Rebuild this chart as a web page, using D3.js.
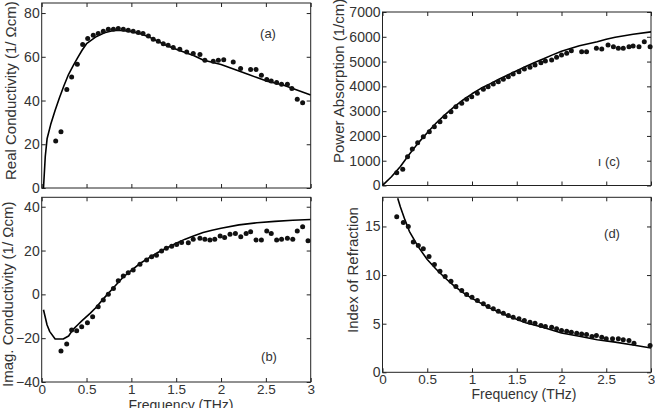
<!DOCTYPE html>
<html>
<head>
<meta charset="utf-8">
<script src="https://cdn.jsdelivr.net/npm/d3@7"></script>
<style>
  body { margin: 0; background: #fff; }
  text { font-family: "Liberation Sans", Arial, sans-serif; fill: #333; }
</style>
</head>
<body>
<script>
// frequency grid ticks (THz)
var freqTicks = [0, 0.5, 1, 1.5, 2, 2.5, 3];
var freqLabels = ["0", "0.5", "1", "1.5", "2", "2.5", "3"];

// (a) real conductivity
var freqA = [0.156, 0.215, 0.28, 0.334, 0.397, 0.457, 0.513, 0.575, 0.63, 0.687, 0.743, 0.80, 0.854, 0.91, 0.965, 1.02, 1.077, 1.13, 1.19, 1.244, 1.30, 1.356, 1.41, 1.467, 1.54, 1.617, 1.69, 1.765, 1.82, 1.913, 1.97, 2.03, 2.136, 2.218, 2.33, 2.39, 2.45, 2.51, 2.56, 2.62, 2.675, 2.74, 2.79, 2.85, 2.91];
var sigReA = [21.5, 25.7, 45, 50.8, 56.6, 65.6, 68.4, 69.9, 70.6, 71.7, 72.6, 72.6, 72.9, 72.6, 72.1, 71.7, 71.1, 70.6, 69.5, 68, 67.1, 66, 65.3, 64.2, 63.5, 62.2, 61.5, 61, 58.4, 58, 58.4, 58.7, 57.6, 54.7, 54.2, 54.2, 51.6, 49.6, 48.9, 48.3, 47.5, 47.5, 45.5, 40.6, 39];
var fitFreqA = [0.02, 0.04, 0.06, 0.1, 0.15, 0.2, 0.25, 0.3, 0.35, 0.4, 0.45, 0.5, 0.6, 0.7, 0.8, 0.9, 1.0, 1.1, 1.2, 1.3, 1.4, 1.5, 1.6, 1.7, 1.8, 1.9, 2.0, 2.1, 2.2, 2.3, 2.4, 2.5, 2.6, 2.7, 2.8, 2.9, 3.0];
var fitReA = [0, 14.5, 22.5, 29, 35.6, 41.5, 47, 52, 55.8, 59.5, 63, 66, 69, 71, 72, 72, 71.5, 70.5, 69, 67, 65, 63.5, 62, 60.5, 58.5, 57.5, 56.5, 55, 53.5, 52, 50.5, 49, 48, 47, 45.5, 44, 42.5];

// (b) imaginary conductivity
var freqB = [0.215, 0.279, 0.334, 0.39, 0.446, 0.51, 0.568, 0.63, 0.687, 0.743, 0.8, 0.854, 0.91, 0.965, 1.02, 1.096, 1.17, 1.226, 1.28, 1.337, 1.39, 1.45, 1.505, 1.56, 1.635, 1.69, 1.765, 1.82, 1.876, 1.93, 1.99, 2.04, 2.1, 2.16, 2.22, 2.28, 2.33, 2.39, 2.45, 2.51, 2.56, 2.62, 2.675, 2.74, 2.8, 2.85, 2.91, 2.97];
var sigImB = [-25.8, -22.7, -16.3, -16.6, -14.8, -13, -10.2, -5.7, -2.6, 0.1, 2.7, 6.2, 8.4, 9.9, 11.1, 13.8, 15.7, 17.2, 17.9, 19.8, 21, 22, 22.8, 23.7, 23.6, 25.1, 25.6, 25.1, 24.8, 25.1, 26.6, 26, 27.4, 27.8, 26.3, 27.8, 28.6, 24.8, 24.8, 28.9, 27.8, 24.8, 25.1, 25.6, 25.1, 28.9, 30.9, 24.5];
var fitFreqB = [0.02, 0.06, 0.09, 0.15, 0.24, 0.3, 0.35, 0.4, 0.45, 0.54, 0.6, 0.7, 0.8, 0.9, 1.0, 1.1, 1.2, 1.3, 1.4, 1.5, 1.6, 1.7, 1.8, 1.9, 2.0, 2.2, 2.4, 2.6, 2.8, 3.0];
var fitImB = [-7, -14, -17, -20.4, -20.4, -19, -16, -14, -12, -8.7, -6.2, -1.5, 3, 7.5, 11, 14.2, 16.8, 19.2, 21.3, 23.3, 25.2, 26.8, 28.2, 29.3, 30.2, 31.7, 32.7, 33.3, 33.8, 34.2];

// (c) power absorption
var freqC = [0.159, 0.226, 0.28, 0.333, 0.393, 0.456, 0.523, 0.579, 0.642, 0.698, 0.765, 0.82, 0.885, 0.94, 0.997, 1.06, 1.127, 1.18, 1.238, 1.294, 1.35, 1.406, 1.46, 1.525, 1.585, 1.648, 1.704, 1.77, 1.82, 1.89, 1.945, 2.0, 2.058, 2.11, 2.225, 2.28, 2.39, 2.45, 2.52, 2.58, 2.635, 2.69, 2.754, 2.8, 2.866, 2.925, 2.99];
var alphaC = [516, 653, 1162, 1472, 1727, 1968, 2170, 2372, 2573, 2775, 2977, 3179, 3316, 3477, 3582, 3719, 3880, 3985, 4094, 4187, 4284, 4389, 4498, 4590, 4700, 4768, 4861, 4953, 5022, 5062, 5171, 5264, 5333, 5438, 5397, 5397, 5534, 5506, 5668, 5601, 5534, 5534, 5601, 5628, 5601, 5802, 5601];
var fitFreqC = [0, 0.1, 0.2, 0.3, 0.4, 0.5, 0.6, 0.7, 0.8, 0.9, 1.0, 1.1, 1.2, 1.3, 1.4, 1.5, 1.6, 1.7, 1.8, 1.9, 2.0, 2.2, 2.4, 2.5, 2.6, 2.8, 3.0];
var fitAlphaC = [0, 355, 770, 1260, 1720, 2130, 2520, 2860, 3170, 3450, 3700, 3920, 4100, 4290, 4460, 4630, 4800, 4960, 5110, 5270, 5420, 5640, 5800, 5900, 5980, 6100, 6200];

// (d) index of refraction
var freqD = [0.159, 0.233, 0.288, 0.344, 0.4, 0.456, 0.52, 0.58, 0.642, 0.7, 0.765, 0.82, 0.885, 0.94, 1.0, 1.06, 1.127, 1.18, 1.238, 1.294, 1.35, 1.406, 1.46, 1.525, 1.585, 1.648, 1.704, 1.77, 1.82, 1.89, 1.945, 2.0, 2.058, 2.11, 2.17, 2.225, 2.28, 2.34, 2.39, 2.45, 2.5, 2.57, 2.635, 2.69, 2.754, 2.81, 2.99];
var indexD = [16.0, 15.4, 15.0, 13.4, 13.05, 12.7, 11.9, 11.1, 10.4, 9.85, 9.37, 8.83, 8.41, 8.0, 7.72, 7.38, 7.04, 6.77, 6.53, 6.28, 6.08, 5.84, 5.66, 5.5, 5.32, 5.15, 5.05, 4.81, 4.7, 4.63, 4.47, 4.3, 4.22, 4.12, 4.02, 3.95, 3.88, 3.68, 3.78, 3.6, 3.44, 3.44, 3.44, 3.34, 3.26, 2.99, 2.75];
var fitFreqD = [0.17, 0.2, 0.25, 0.3, 0.4, 0.5, 0.6, 0.7, 0.8, 0.9, 1.0, 1.2, 1.4, 1.6, 1.8, 2.0, 2.2, 2.4, 2.6, 2.8, 3.0];
var fitIndexD = [17.9, 17.0, 15.7, 14.5, 12.9, 11.6, 10.6, 9.7, 8.9, 8.2, 7.6, 6.6, 5.8, 5.1, 4.6, 4.05, 3.7, 3.35, 3.1, 2.8, 2.5];

var panels = [
  {id: "a", box: [41.7, 310.7, 3, 188], yDomain: [0, 84.6], yTicks: [0, 20, 40, 60, 80],
   x: freqA, y: sigReA, fx: fitFreqA, fy: fitReA, xLabels: false,
   title: "Real Conductivity (1/  \u03A9cm)", titlePos: [16, 180], tag: "(a)", tagPos: [268, 38]},
  {id: "b", box: [41.7, 310.7, 197.3, 382], yDomain: [-40, 44.3], yTicks: [-40, -20, 0, 20, 40],
   x: freqB, y: sigImB, fx: fitFreqB, fy: fitImB, xLabels: true, xTitle: [181, 410],
   title: "Imag. Conductivity (1/  \u03A9cm)", titlePos: [13, 387], tag: "(b)", tagPos: [269, 361]},
  {id: "c", box: [382.5, 651, 12, 185.5], yDomain: [0, 7000], yTicks: [0, 1000, 2000, 3000, 4000, 5000, 6000, 7000],
   x: freqC, y: alphaC, fx: fitFreqC, fy: fitAlphaC, xLabels: false,
   title: "Power Absorption (1/cm)", titlePos: [344, 163], tag: "\u0131 (c)", tagPos: [609, 166]},
  {id: "d", box: [382.5, 651, 197.3, 372.3], yDomain: [0, 18], yTicks: [0, 5, 10, 15],
   x: freqD, y: indexD, fx: fitFreqD, fy: fitIndexD, xLabels: true, xTitle: [524, 399],
   title: "Index of Refraction", titlePos: [358, 333], tag: "(d)", tagPos: [612, 238]}
];

var svg = d3.select("body").append("svg")
  .attr("width", 655)
  .attr("height", 408);

panels.forEach(function(p) {
  var x = d3.scaleLinear().domain([0, 3]).range([p.box[0], p.box[1]]);
  var y = d3.scaleLinear().domain(p.yDomain).range([p.box[3], p.box[2]]);

  var g = svg.append("g");

  svg.append("clipPath").attr("id", "clip-" + p.id)
    .append("rect")
    .attr("x", p.box[0]).attr("y", p.box[2])
    .attr("width", p.box[1] - p.box[0]).attr("height", p.box[3] - p.box[2]);

  // inward ticks on all four sides
  var bottom = g.append("g").attr("transform", "translate(0," + p.box[3] + ")")
    .call(d3.axisBottom(x).tickValues(freqTicks).tickSizeInner(-4).tickSizeOuter(0).tickPadding(2)
      .tickFormat(function(d, i) { return p.xLabels ? freqLabels[i] : ""; }));
  g.append("g").attr("transform", "translate(0," + p.box[2] + ")")
    .call(d3.axisTop(x).tickValues(freqTicks).tickSizeInner(-4).tickSizeOuter(0).tickFormat(""));
  var left = g.append("g").attr("transform", "translate(" + p.box[0] + ",0)")
    .call(d3.axisLeft(y).tickValues(p.yTicks).tickSizeInner(-4).tickSizeOuter(0).tickPadding(2)
      .tickFormat(d3.format("d")));
  g.append("g").attr("transform", "translate(" + p.box[1] + ",0)")
    .call(d3.axisRight(y).tickValues(p.yTicks).tickSizeInner(-4).tickSizeOuter(0).tickFormat(""));

  g.selectAll(".domain").remove();
  g.selectAll(".tick line").attr("stroke", "#222");
  left.selectAll(".tick text").style("font-size", "14px").style("font-family", null).attr("fill", "#333");
  bottom.selectAll(".tick text").style("font-size", "13.5px").style("font-family", null).attr("fill", "#333");

  g.append("rect")
    .attr("x", p.box[0]).attr("y", p.box[2])
    .attr("width", p.box[1] - p.box[0]).attr("height", p.box[3] - p.box[2])
    .attr("fill", "none").attr("stroke", "#222").attr("stroke-width", 1);

  var line = d3.line()
    .x(function(d) { return x(d[0]); })
    .y(function(d) { return y(d[1]); });

  g.append("path")
    .datum(d3.zip(p.fx, p.fy))
    .attr("clip-path", "url(#clip-" + p.id + ")")
    .attr("fill", "none")
    .attr("stroke", "#000")
    .attr("stroke-width", 1.6)
    .attr("stroke-linejoin", "round")
    .attr("d", line);

  g.selectAll("circle.pt")
    .data(d3.zip(p.x, p.y))
    .enter().append("circle")
    .attr("class", "pt")
    .attr("cx", function(d) { return x(d[0]); })
    .attr("cy", function(d) { return y(d[1]); })
    .attr("r", 2.5)
    .attr("fill", "#111");

  g.append("text")
    .attr("transform", "translate(" + p.titlePos[0] + "," + p.titlePos[1] + ") rotate(-90)")
    .attr("text-anchor", "start")
    .style("font-size", "15px")
    .text(p.title);

  g.append("text")
    .attr("x", p.tagPos[0]).attr("y", p.tagPos[1])
    .attr("text-anchor", "middle")
    .style("font-size", "13px")
    .text(p.tag);

  if (p.xTitle) {
    g.append("text")
      .attr("x", p.xTitle[0]).attr("y", p.xTitle[1])
      .attr("text-anchor", "middle")
      .style("font-size", "14px")
      .text("Frequency (THz)");
  }
});
</script>
</body>
</html>
